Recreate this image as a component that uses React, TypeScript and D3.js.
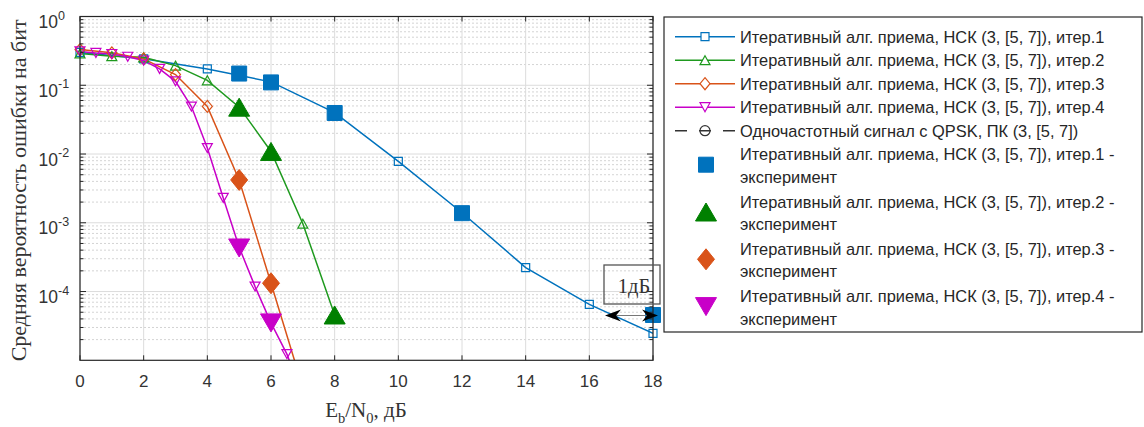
import React from "react";
import * as d3 from "d3";

// ---------- data ----------
const ebn0Iter1 = [0, 2, 4, 6, 8, 10, 12, 14, 16, 18];
const berIter1 = [0.3, 0.242, 0.173, 0.112, 0.04, 7.8e-3, 1.4e-3, 2.23e-4, 6.5e-5, 2.47e-5];
const ebn0Iter2 = [0, 1, 2, 3, 4, 5, 6, 7, 8];
const berIter2 = [0.29, 0.265, 0.255, 0.193, 0.118, 0.048, 0.0109, 9.7e-4, 4.56e-5];
const ebn0Iter3 = [0, 1, 2, 3, 4, 5, 6, 7];
const berIter3 = [0.33, 0.296, 0.242, 0.143, 0.0493, 4.2e-3, 1.32e-4, 4e-6];
const ebn0Iter4 = [0, 0.5, 1, 1.5, 2, 2.5, 3, 3.5, 4, 4.5, 5, 5.5, 6, 6.5, 7];
const berIter4 = [0.31, 0.295, 0.285, 0.26, 0.229, 0.173, 0.114, 0.049, 0.0122, 2.3e-3, 4.4e-4, 1.18e-4, 3.5e-5, 1.23e-5, 3e-6];

const expEbn0Iter1 = [5, 6, 8, 12, 18];
const expBerIter1 = [0.148, 0.11, 0.0395, 1.38e-3, 4.56e-5];
const expEbn0Iter2 = [5, 6, 8];
const expBerIter2 = [0.048, 0.0109, 4.56e-5];
const expEbn0Iter3 = [5, 6];
const expBerIter3 = [4.2e-3, 1.32e-4];
const expEbn0Iter4 = [5, 6];
const expBerIter4 = [4.3e-4, 3.5e-5];

const xTicks = [0, 2, 4, 6, 8, 10, 12, 14, 16, 18];
const yTickExps = [0, -1, -2, -3, -4];

const legendLabels = [
  "Итеративный алг. приема, НСК (3, [5, 7]), итер.1",
  "Итеративный алг. приема, НСК (3, [5, 7]), итер.2",
  "Итеративный алг. приема, НСК (3, [5, 7]), итер.3",
  "Итеративный алг. приема, НСК (3, [5, 7]), итер.4",
  "Одночастотный сигнал с QPSK, ПК (3, [5, 7])",
];
const legendExpLabels = [
  "Итеративный алг. приема, НСК (3, [5, 7]), итер.1 -",
  "Итеративный алг. приема, НСК (3, [5, 7]), итер.2 -",
  "Итеративный алг. приема, НСК (3, [5, 7]), итер.3 -",
  "Итеративный алг. приема, НСК (3, [5, 7]), итер.4 -",
];
const expSuffix = "эксперимент";

// ---------- styling ----------
const BLUE = "#0072BD";
const GREEN_LINE = "#1f9a1f";
const GREEN = "#008000";
const ORANGE = "#D95319";
const MAGENTA = "#C800C8";
const SANS = "'Liberation Sans', Arial, sans-serif";
const SERIF = "'Liberation Serif', 'Times New Roman', serif";

type Shape = "square" | "triUp" | "diamond" | "triDown" | "circle";

function markerPath(shape: Shape, cx: number, cy: number, w: number, h: number): string {
  const hw = w / 2, hh = h / 2;
  switch (shape) {
    case "square":
      return `M${cx - hw},${cy - hh}H${cx + hw}V${cy + hh}H${cx - hw}Z`;
    case "triUp":
      return `M${cx},${cy - hh}L${cx + hw},${cy + hh}L${cx - hw},${cy + hh}Z`;
    case "triDown":
      return `M${cx - hw},${cy - hh}L${cx + hw},${cy - hh}L${cx},${cy + hh}Z`;
    case "diamond":
      return `M${cx},${cy - hh}L${cx + hw},${cy}L${cx},${cy + hh}L${cx - hw},${cy}Z`;
    default:
      return `M${cx - hw},${cy}A${hw},${hh} 0 1,0 ${cx + hw},${cy}A${hw},${hh} 0 1,0 ${cx - hw},${cy}Z`;
  }
}

const W = 1144, H = 427;
const PL = 80, PR = 653, PT = 16.5, PB = 360.3;

export default function App() {
  const x = d3.scaleLinear().domain([0, 18]).range([PL, PR]);
  const y = d3.scaleLog().domain([1e-5, 1]).range([PB, PT]);

  const sim = [
    { xs: ebn0Iter1, ys: berIter1, color: BLUE, shape: "square" as Shape, w: 8, h: 8 },
    { xs: ebn0Iter2, ys: berIter2, color: GREEN_LINE, shape: "triUp" as Shape, w: 10, h: 9 },
    { xs: ebn0Iter3, ys: berIter3, color: ORANGE, shape: "diamond" as Shape, w: 10, h: 12 },
    { xs: ebn0Iter4, ys: berIter4, color: MAGENTA, shape: "triDown" as Shape, w: 10, h: 9 },
  ];
  const exp = [
    { xs: expEbn0Iter1, ys: expBerIter1, color: BLUE, shape: "square" as Shape, w: 15, h: 15 },
    { xs: expEbn0Iter2, ys: expBerIter2, color: GREEN, shape: "triUp" as Shape, w: 21, h: 18 },
    { xs: expEbn0Iter3, ys: expBerIter3, color: ORANGE, shape: "diamond" as Shape, w: 17, h: 21 },
    { xs: expEbn0Iter4, ys: expBerIter4, color: MAGENTA, shape: "triDown" as Shape, w: 21, h: 18 },
  ];

  const line = d3
    .line<[number, number]>()
    .x((d) => x(d[0]))
    .y((d) => y(d[1]));

  const minorVals: number[] = [];
  for (let e = -5; e < 0; e++) for (let k = 2; k <= 9; k++) minorVals.push(k * Math.pow(10, e));

  const inRange = (xv: number, yv: number) => xv >= 0 && xv <= 18 && yv >= 1e-5 && yv <= 1;

  // legend layout
  const LX = 664, LY = 17, LW = 478, LH = 315;
  const singleY = (i: number) => 36.7 + i * 23.5;
  const expY = (j: number) => 154.2 + j * 47.3;
  const sampleX0 = 675, sampleX1 = 735, sampleXC = 705, textX = 740;
  const LFS = 16.4;

  // annotation
  const arrowY = 315.5;
  const ax0 = 605, ax1 = 658;
  const headL = 16, headHW = 6, notch = 5;

  return (
    <svg
      width={W}
      height={H}
      style={{ position: "absolute", left: 0, top: 0, background: "#fff" }}
      xmlns="http://www.w3.org/2000/svg"
    >
      <defs>
        <clipPath id="plotClip">
          <rect x={PL} y={PT} width={PR - PL} height={PB - PT} />
        </clipPath>
      </defs>
      <rect x={0} y={0} width={W} height={H} fill="#fff" />

      {/* minor grid */}
      {minorVals.map((v, i) => (
        <line key={"mg" + i} x1={PL} x2={PR} y1={y(v)} y2={y(v)} stroke="#cfcfcf" strokeWidth={0.9} strokeDasharray="2,2" />
      ))}
      {/* major grid */}
      {yTickExps.map((e) => (
        <line key={"gy" + e} x1={PL} x2={PR} y1={y(Math.pow(10, e))} y2={y(Math.pow(10, e))} stroke="#dcdcdc" strokeWidth={1} />
      ))}
      {xTicks.map((t) => (
        <line key={"gx" + t} x1={x(t)} x2={x(t)} y1={PT} y2={PB} stroke="#dcdcdc" strokeWidth={1} />
      ))}

      {/* simulated lines */}
      <g clipPath="url(#plotClip)">
        {sim.map((s, i) => (
          <path
            key={"l" + i}
            d={line(s.xs.map((xv, k) => [xv, s.ys[k]] as [number, number])) || ""}
            fill="none"
            stroke={s.color}
            strokeWidth={1.5}
          />
        ))}
      </g>
      {sim.map((s, i) => (
        <g key={"m" + i}>
          {s.xs.map((xv, k) =>
            inRange(xv, s.ys[k]) ? (
              <path
                key={k}
                d={markerPath(s.shape, x(xv), y(s.ys[k]), s.w, s.h)}
                fill="none"
                stroke={s.color}
                strokeWidth={1.2}
              />
            ) : null
          )}
        </g>
      ))}
      {/* experimental markers */}
      {exp.map((s, i) => (
        <g key={"e" + i}>
          {s.xs.map((xv, k) => (
            <path key={k} d={markerPath(s.shape, x(xv), y(s.ys[k]), s.w, s.h)} fill={s.color} stroke={s.color} strokeWidth={1} />
          ))}
        </g>
      ))}

      {/* axes box */}
      <rect x={PL} y={PT} width={PR - PL} height={PB - PT} fill="none" stroke="#262626" strokeWidth={1.2} />
      {/* x ticks */}
      {xTicks.map((t) => (
        <g key={"xt" + t}>
          <line x1={x(t)} x2={x(t)} y1={PB} y2={PB - 5} stroke="#262626" />
          <line x1={x(t)} x2={x(t)} y1={PT} y2={PT + 5} stroke="#262626" />
          <text x={x(t)} y={387} textAnchor="middle" fontFamily={SANS} fontSize={17} fill="#333">
            {t}
          </text>
        </g>
      ))}
      {/* y ticks */}
      {yTickExps.map((e) => {
        const yy = y(Math.pow(10, e));
        return (
          <g key={"yt" + e}>
            <line x1={PL} x2={PL + 6} y1={yy} y2={yy} stroke="#262626" />
            <line x1={PR} x2={PR - 6} y1={yy} y2={yy} stroke="#262626" />
            <text x={38.5} y={yy + 11.6} fontFamily={SANS} fontSize={17.5} fill="#333">
              10
              <tspan fontSize={12.5} dy={-8.5}>
                {e === 0 ? "0" : "-" + Math.abs(e)}
              </tspan>
            </text>
          </g>
        );
      })}
      {minorVals.map((v, i) => (
        <g key={"ym" + i}>
          <line x1={PL} x2={PL + 3.5} y1={y(v)} y2={y(v)} stroke="#262626" />
          <line x1={PR} x2={PR - 3.5} y1={y(v)} y2={y(v)} stroke="#262626" />
        </g>
      ))}

      {/* axis labels */}
      <text
        transform={`translate(26,${(PT + PB) / 2 + 2}) rotate(-90)`}
        textAnchor="middle"
        fontFamily={SERIF}
        fontSize={22}
        fill="#333"
      >
        Средняя вероятность ошибки на бит
      </text>
      <text x={366} y={417} textAnchor="middle" fontFamily={SERIF} fontSize={21} fill="#333">
        E<tspan fontSize={14.5} dy={6}>b</tspan>
        <tspan dy={-6}>/N</tspan>
        <tspan fontSize={14.5} dy={6}>0</tspan>
        <tspan dy={-6}>, дБ</tspan>
      </text>

      {/* annotation: double arrow + textbox */}
      <line x1={ax0 + headL - notch} x2={ax1 - headL + notch} y1={arrowY} y2={arrowY} stroke="#777" strokeWidth={1} />
      <path
        d={`M${ax0},${arrowY}L${ax0 + headL},${arrowY - headHW}L${ax0 + headL - notch},${arrowY}L${ax0 + headL},${arrowY + headHW}Z`}
        fill="#000"
      />
      <path
        d={`M${ax1},${arrowY}L${ax1 - headL},${arrowY - headHW}L${ax1 - headL + notch},${arrowY}L${ax1 - headL},${arrowY + headHW}Z`}
        fill="#000"
      />
      <rect x={604} y={265} width={56} height={39} fill="none" stroke="#555" strokeWidth={1.3} />
      <text x={634} y={292.5} textAnchor="middle" fontFamily={SERIF} fontSize={20.5} fill="#333">
        1дБ
      </text>

      {/* legend */}
      <rect x={LX} y={LY} width={LW} height={LH} fill="#fff" stroke="#262626" strokeWidth={1.2} />
      {sim.map((s, i) => (
        <g key={"lg" + i}>
          <line x1={sampleX0} x2={sampleX1} y1={singleY(i)} y2={singleY(i)} stroke={s.color} strokeWidth={1.5} />
          <path d={markerPath(s.shape, sampleXC, singleY(i), s.w, s.h)} fill="#fff" stroke={s.color} strokeWidth={1.2} />
          <text x={textX} y={singleY(i)} dominantBaseline="central" fontFamily={SANS} fontSize={LFS} fill="#262626">
            {legendLabels[i]}
          </text>
        </g>
      ))}
      <g>
        <line x1={sampleX0} x2={sampleX1} y1={singleY(4)} y2={singleY(4)} stroke="#333" strokeWidth={1.5} strokeDasharray="12,12" />
        <path d={markerPath("circle", sampleXC, singleY(4), 10, 10)} fill="none" stroke="#333" strokeWidth={1.2} />
        <text x={textX} y={singleY(4)} dominantBaseline="central" fontFamily={SANS} fontSize={LFS} fill="#262626">
          {legendLabels[4]}
        </text>
      </g>
      {exp.map((s, j) => {
        const y0 = expY(j);
        return (
          <g key={"le" + j}>
            <path d={markerPath(s.shape, sampleXC + 1, y0 + 10.5, s.w, s.h)} fill={s.color} stroke={s.color} />
            <text x={textX} y={y0} dominantBaseline="central" fontFamily={SANS} fontSize={LFS} fill="#262626">
              {legendExpLabels[j]}
            </text>
            <text x={textX} y={y0 + 22.5} dominantBaseline="central" fontFamily={SANS} fontSize={LFS} fill="#262626">
              {expSuffix}
            </text>
          </g>
        );
      })}
    </svg>
  );
}
